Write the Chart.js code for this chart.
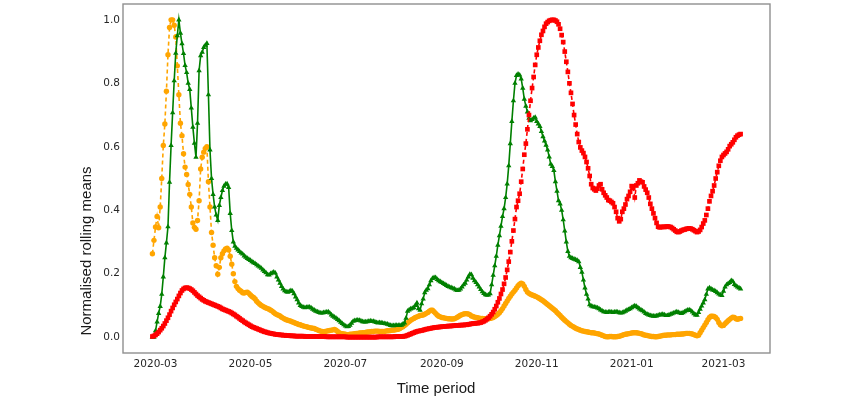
<!DOCTYPE html>
<html><head><meta charset="utf-8">
<script src="https://cdn.jsdelivr.net/npm/chart.js@4.4.1/dist/chart.umd.min.js"></script>
<style>html,body{margin:0;padding:0;background:#fff;}#wrap{position:relative;width:850px;height:397px;}</style>
</head><body><div id="wrap"><canvas id="c" width="850" height="397"></canvas></div>
<script>
const startDate = '2020-02-28';
const tickLabels = ['2020-03','2020-05','2020-07','2020-09','2020-11','2021-01','2021-03'];
const yTicks = [0, 0.2, 0.4, 0.6, 0.8, 1.0];
const xTitle = 'Time period';
const yTitle = 'Normalised rolling means';

const orangeValues = [
0.263,0.305,0.347,0.38,0.345,0.41,0.50,0.604,0.672,0.775,
0.89,0.976,1.0,1.0,0.983,0.946,0.855,0.764,0.674,0.635,
0.578,0.536,0.513,0.481,0.45,0.41,0.36,0.346,0.34,0.368,
0.43,0.53,0.567,0.583,0.595,0.60,0.49,0.41,0.33,0.29,
0.25,0.225,0.198,0.22,0.25,0.263,0.272,0.278,0.28,0.275,
0.255,0.23,0.20,0.175,0.16,0.153,0.148,0.145,0.14,0.139,
0.141,0.142,0.138,0.133,0.128,0.125,0.12,0.113,0.108,0.104,
0.10,0.097,0.094,0.092,0.09,0.088,0.085,0.082,0.078,0.074,
0.071,0.069,0.067,0.063,0.06,0.057,0.055,0.053,0.052,0.05,
0.048,0.046,0.044,0.042,0.04,0.039,0.037,0.035,0.034,0.033,
0.031,0.03,0.029,0.028,0.027,0.025,0.023,0.021,0.019,0.018,
0.017,0.018,0.019,0.02,0.021,0.022,0.023,0.024,0.022,0.018,
0.014,0.012,0.011,0.01,0.009,0.008,0.008,0.009,0.009,0.01,
0.011,0.012,0.012,0.013,0.013,0.014,0.014,0.015,0.016,0.016,
0.017,0.018,0.018,0.019,0.019,0.019,0.018,0.018,0.018,0.018,
0.019,0.02,0.02,0.021,0.022,0.022,0.023,0.024,0.025,0.027,
0.03,0.033,0.037,0.041,0.045,0.049,0.053,0.056,0.059,0.062,
0.064,0.066,0.068,0.069,0.070,0.072,0.075,0.078,0.082,0.085,
0.085,0.08,0.075,0.07,0.066,0.064,0.062,0.061,0.06,0.059,
0.058,0.058,0.057,0.057,0.058,0.06,0.063,0.066,0.069,0.071,
0.073,0.074,0.074,0.073,0.071,0.067,0.065,0.063,0.062,0.061,
0.060,0.059,0.059,0.058,0.058,0.058,0.058,0.059,0.060,0.062,
0.065,0.068,0.072,0.077,0.083,0.090,0.098,0.106,0.114,0.122,
0.129,0.136,0.142,0.148,0.155,0.162,0.167,0.170,0.168,0.160,
0.150,0.142,0.138,0.135,0.133,0.131,0.129,0.127,0.124,0.121,
0.118,0.115,0.111,0.107,0.103,0.099,0.095,0.091,0.087,0.083,
0.078,0.073,0.068,0.063,0.058,0.053,0.049,0.045,0.041,0.037,
0.034,0.031,0.028,0.026,0.024,0.022,0.020,0.019,0.018,0.017,
0.016,0.015,0.014,0.014,0.013,0.012,0.011,0.010,0.008,0.006,
0.004,0.002,0.001,0.001,0.002,0.002,0.001,0.001,0.001,0.002,
0.003,0.004,0.006,0.008,0.009,0.010,0.011,0.012,0.013,0.014,
0.014,0.014,0.013,0.012,0.011,0.009,0.007,0.006,0.005,0.004,
0.003,0.002,0.002,0.001,0.001,0.002,0.003,0.004,0.005,0.006,
0.006,0.007,0.007,0.007,0.008,0.008,0.008,0.009,0.009,0.009,
0.010,0.010,0.011,0.012,0.012,0.012,0.011,0.010,0.008,0.006,
0.004,0.006,0.014,0.022,0.030,0.038,0.046,0.055,0.062,0.066,
0.066,0.065,0.062,0.056,0.046,0.039,0.036,0.037,0.042,0.047,
0.052,0.056,0.060,0.063,0.062,0.058,0.056,0.058,0.059
];

const greenValues = [
0.0,0.0,0.02,0.048,0.075,0.097,0.135,0.19,0.25,0.297,
0.348,0.488,0.604,0.707,0.808,0.895,0.95,1.0,0.958,0.925,
0.894,0.856,0.834,0.80,0.781,0.722,0.662,0.611,0.567,0.674,
0.84,0.887,0.898,0.913,0.92,0.926,0.764,0.59,0.50,0.45,
0.41,0.385,0.368,0.415,0.44,0.462,0.476,0.482,0.483,0.472,
0.39,0.336,0.30,0.287,0.28,0.275,0.27,0.265,0.262,0.256,
0.252,0.248,0.245,0.242,0.238,0.235,0.232,0.228,0.224,0.221,
0.217,0.212,0.207,0.203,0.197,0.196,0.2,0.203,0.205,0.202,
0.19,0.18,0.17,0.16,0.152,0.146,0.143,0.142,0.144,0.147,
0.145,0.137,0.127,0.118,0.108,0.10,0.097,0.094,0.093,0.094,
0.095,0.095,0.092,0.088,0.085,0.082,0.08,0.078,0.076,0.076,
0.077,0.078,0.079,0.08,0.076,0.07,0.066,0.063,0.06,0.056,
0.052,0.047,0.043,0.039,0.035,0.033,0.034,0.038,0.044,0.05,
0.052,0.053,0.054,0.053,0.051,0.049,0.048,0.048,0.049,0.05,
0.051,0.05,0.05,0.048,0.046,0.045,0.046,0.045,0.044,0.043,
0.042,0.041,0.039,0.037,0.036,0.036,0.037,0.037,0.037,0.037,
0.038,0.041,0.045,0.06,0.082,0.086,0.089,0.091,0.093,0.1,
0.108,0.09,0.085,0.105,0.12,0.14,0.148,0.153,0.165,0.178,
0.185,0.188,0.188,0.182,0.178,0.175,0.172,0.169,0.166,0.163,
0.16,0.158,0.156,0.154,0.152,0.149,0.147,0.148,0.152,0.158,
0.165,0.17,0.18,0.19,0.198,0.197,0.186,0.178,0.172,0.165,
0.158,0.15,0.143,0.138,0.134,0.132,0.133,0.137,0.165,0.195,
0.225,0.255,0.29,0.32,0.35,0.38,0.405,0.44,0.483,0.54,
0.61,0.68,0.745,0.80,0.825,0.829,0.826,0.814,0.785,0.75,
0.728,0.71,0.69,0.682,0.686,0.69,0.693,0.68,0.672,0.664,
0.648,0.632,0.618,0.605,0.59,0.568,0.545,0.538,0.525,0.49,
0.46,0.43,0.42,0.40,0.37,0.335,0.30,0.27,0.255,0.25,
0.248,0.246,0.244,0.242,0.238,0.22,0.205,0.18,0.155,0.135,
0.12,0.102,0.098,0.096,0.095,0.094,0.092,0.09,0.086,0.083,
0.08,0.079,0.078,0.079,0.08,0.079,0.078,0.079,0.08,0.079,
0.077,0.076,0.077,0.079,0.082,0.085,0.087,0.09,0.093,0.096,
0.099,0.097,0.093,0.089,0.086,0.083,0.079,0.075,0.072,0.07,
0.068,0.067,0.066,0.066,0.067,0.069,0.07,0.071,0.072,0.07,
0.068,0.068,0.07,0.072,0.074,0.076,0.078,0.08,0.078,0.076,
0.075,0.077,0.08,0.083,0.085,0.086,0.084,0.079,0.074,0.07,
0.069,0.078,0.088,0.098,0.108,0.118,0.135,0.152,0.155,0.152,
0.149,0.147,0.144,0.14,0.136,0.133,0.131,0.145,0.158,0.165,
0.169,0.172,0.178,0.176,0.166,0.162,0.158,0.155,0.152
];

const redValues = [
0.002,0.004,0.007,0.011,0.016,0.022,0.028,0.035,0.043,0.052,
0.061,0.071,0.082,0.092,0.102,0.111,0.12,0.13,0.139,0.147,
0.152,0.155,0.156,0.155,0.153,0.15,0.146,0.141,0.136,0.131,
0.127,0.123,0.119,0.116,0.113,0.111,0.109,0.107,0.105,0.103,
0.101,0.099,0.097,0.095,0.092,0.089,0.087,0.085,0.083,0.081,
0.079,0.076,0.073,0.07,0.066,0.063,0.059,0.055,0.052,0.048,
0.045,0.042,0.039,0.036,0.033,0.031,0.029,0.027,0.025,0.023,
0.021,0.019,0.017,0.016,0.014,0.013,0.012,0.011,0.01,0.009,
0.008,0.008,0.007,0.007,0.006,0.006,0.005,0.005,0.005,0.004,
0.004,0.004,0.003,0.003,0.003,0.003,0.003,0.003,0.002,0.002,
0.002,0.002,0.002,0.002,0.002,0.002,0.002,0.002,0.002,0.002,
0.002,0.002,0.001,0.001,0.001,0.001,0.001,0.001,0.001,0.001,
0.001,0.001,0.001,0.001,0.001,0.0,0.0,0.0,0.0,0.0,
0.0,0.0,0.0,0.0,0.0,0.0,0.0,0.0,0.0,0.0,
0.0,0.0,0.0,0.0,0.0,0.001,0.001,0.001,0.001,0.001,
0.001,0.001,0.001,0.001,0.001,0.001,0.002,0.002,0.002,0.002,
0.002,0.002,0.003,0.004,0.006,0.008,0.010,0.012,0.014,0.016,
0.018,0.019,0.020,0.021,0.022,0.024,0.025,0.026,0.027,0.028,
0.029,0.030,0.031,0.031,0.032,0.032,0.033,0.033,0.034,0.034,
0.035,0.035,0.035,0.036,0.036,0.037,0.037,0.037,0.038,0.038,
0.038,0.039,0.039,0.040,0.041,0.042,0.043,0.043,0.044,0.044,
0.045,0.046,0.048,0.050,0.053,0.057,0.061,0.066,0.072,0.079,
0.088,0.098,0.110,0.122,0.136,0.150,0.168,0.188,0.212,0.238,
0.268,0.302,0.336,0.372,0.41,0.43,0.452,0.49,0.53,0.575,
0.61,0.655,0.70,0.745,0.785,0.82,0.858,0.89,0.913,0.934,
0.953,0.965,0.978,0.988,0.993,0.997,0.999,1.0,1.0,0.998,
0.994,0.986,0.972,0.952,0.93,0.9,0.868,0.836,0.80,0.77,
0.735,0.70,0.67,0.64,0.615,0.598,0.588,0.58,0.568,0.552,
0.532,0.508,0.482,0.47,0.466,0.462,0.468,0.478,0.482,0.466,
0.455,0.447,0.44,0.432,0.43,0.426,0.422,0.41,0.395,0.375,
0.365,0.372,0.395,0.405,0.418,0.435,0.445,0.458,0.476,0.47,
0.44,0.478,0.485,0.494,0.49,0.488,0.475,0.465,0.455,0.44,
0.42,0.405,0.39,0.375,0.36,0.348,0.346,0.347,0.348,0.347,
0.348,0.349,0.348,0.347,0.344,0.34,0.336,0.332,0.331,0.333,
0.336,0.338,0.339,0.341,0.342,0.343,0.342,0.34,0.337,0.334,
0.331,0.333,0.338,0.347,0.358,0.368,0.385,0.405,0.428,0.445,
0.46,0.478,0.50,0.52,0.54,0.556,0.568,0.574,0.579,0.584,
0.592,0.602,0.608,0.614,0.622,0.63,0.635,0.638,0.64
];

const DAY = 86400000;
const t0 = Date.parse(startDate + 'T00:00:00Z');
const tickDays = tickLabels.map(s => Math.round((Date.parse(s + '-01T00:00:00Z') - t0) / DAY));
const toXY = arr => arr.map((v, i) => ({x: i, y: v}));
const lastDay = orangeValues.length - 1;
const xPad = lastDay * 0.05;

const deco = {
  id: 'deco',
  beforeDatasetsDraw(chart) {
    const {ctx, chartArea: a} = chart;
    ctx.save();
    ctx.strokeStyle = '#8f8f8f';
    ctx.lineWidth = 1.4;
    ctx.strokeRect(a.left, a.top, a.right - a.left, a.bottom - a.top);
    ctx.restore();
  },
  afterDraw(chart) {
    const {ctx} = chart;
    ctx.save();
    ctx.fillStyle = '#1a1a1a';
    ctx.font = '15px "Liberation Sans"';
    ctx.textAlign = 'center';
    ctx.textBaseline = 'alphabetic';
    ctx.fillText(xTitle, 436, 393);
    ctx.translate(87, 251);
    ctx.rotate(-Math.PI / 2);
    ctx.textBaseline = 'middle';
    ctx.fillText(yTitle, 0, 0);
    ctx.restore();
  }
};

const tickFont = {family: 'DejaVu Sans', size: 10.5};

new Chart(document.getElementById('c'), {
  type: 'line',
  data: {
    datasets: [
      {data: toXY(redValues), borderColor: '#ff0000', backgroundColor: '#ff0000', borderWidth: 1.6,
       borderDash: [4, 3], pointStyle: 'rect', pointRadius: 3.3, pointBorderWidth: 0, order: 1},
      {data: toXY(greenValues), borderColor: '#008000', backgroundColor: '#008000', borderWidth: 1.6,
       pointStyle: 'triangle', pointRadius: 3.1, pointBorderWidth: 0, order: 2},
      {data: toXY(orangeValues), borderColor: '#ffa500', backgroundColor: '#ffa500', borderWidth: 1.6,
       borderDash: [4, 3], pointStyle: 'circle', pointRadius: 2.7, pointBorderWidth: 0, order: 3}
    ]
  },
  options: {
    responsive: false, animation: false, devicePixelRatio: 1, events: [],
    layout: {padding: {left: 0, right: 80, top: 3, bottom: 0}},
    plugins: {legend: {display: false}, tooltip: {enabled: false}},
    elements: {line: {tension: 0}},
    scales: {
      x: {
        type: 'linear', min: -xPad, max: lastDay + xPad,
        grid: {display: false, drawTicks: false}, border: {display: false},
        afterBuildTicks: s => { s.ticks = tickDays.map(v => ({value: v})); },
        afterFit: s => { s.height = 44; s.paddingLeft = 0; s.paddingRight = 0; },
        ticks: {padding: 5, font: tickFont, color: '#262626', maxRotation: 0, autoSkip: false,
                callback: (v, i) => tickLabels[i]}
      },
      y: {
        type: 'linear', min: -0.05, max: 1.05,
        grid: {display: false, drawTicks: false}, border: {display: false},
        afterBuildTicks: s => { s.ticks = yTicks.map(v => ({value: v})); },
        afterFit: s => { s.width = 123; s.paddingTop = 0; s.paddingBottom = 0; },
        ticks: {padding: 3, font: tickFont, color: '#262626', callback: v => v.toFixed(1)}
      }
    }
  },
  plugins: [deco]
});
</script>
</body></html>
